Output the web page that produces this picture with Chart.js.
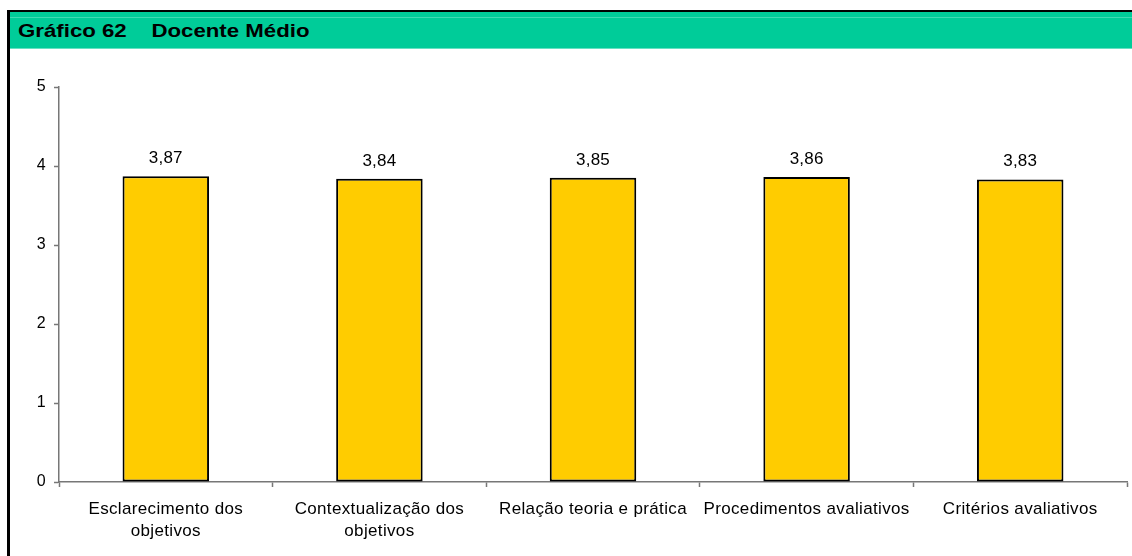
<!DOCTYPE html>
<html>
<head>
<meta charset="utf-8">
<script src="https://cdn.jsdelivr.net/npm/chart.js@4/dist/chart.umd.min.js"></script>
<style>
body { margin: 0; background: #fff; width: 1132px; height: 556px; overflow: hidden; position: relative; }
#chart { position: absolute; left: 0; top: 0; }
#frameLeft { position: absolute; left: 7px; top: 10px; width: 3px; height: 546px; background: #000; }
#frameTop { position: absolute; left: 7px; top: 10px; width: 1125px; height: 2px; background: #000; }
#header { position: absolute; left: 10px; top: 12px; width: 1122px; height: 37px; background: #00cc99;
  border-top: 1px solid #00cc99; box-sizing: border-box; }
#header .hl { position: absolute; left: 0; top: 4px; width: 100%; height: 1px; background: #40d9b3; }
#header .bl { position: absolute; left: 0; bottom: 0; width: 100%; height: 1px; background: #66e0c2; }
#title { position: absolute; left: 8px; top: 7px; font: bold 19px "Liberation Sans", Arial, sans-serif; color: #000;
  white-space: pre; transform: scaleX(1.17); transform-origin: left center; }
</style>
</head>
<body>
<canvas id="chart" width="1132" height="556"></canvas>
<div id="frameLeft"></div>
<div id="frameTop"></div>
<div id="header"><div class="hl"></div><div class="bl"></div><div id="title">Gráfico 62    Docente Médio</div></div>
<script>
const categories = [
    ['Esclarecimento dos', 'objetivos'],
    ['Contextualização dos', 'objetivos'],
    'Relação teoria e prática',
    'Procedimentos avaliativos',
    'Critérios avaliativos'
];
const values = [3.87, 3.84, 3.85, 3.86, 3.83];
const yMin = 0;
const yMax = 5;

const fontFamily = '"Liberation Sans", Arial, sans-serif';

// the reference text is a bit wider than plain Arial
const wideText = {
    id: 'wideText',
    beforeLayout(chart) { chart.ctx.letterSpacing = '0.35px'; },
    beforeDraw(chart) { chart.ctx.letterSpacing = '0.35px'; }
};

// writes the value above each bar, with a comma as decimal mark
const valueLabels = {
    id: 'valueLabels',
    afterDatasetsDraw(chart) {
        const ctx = chart.ctx;
        const meta = chart.getDatasetMeta(0);
        ctx.save();
        ctx.font = '17px ' + fontFamily;
        ctx.letterSpacing = '0.2px';
        ctx.fillStyle = '#000';
        ctx.textAlign = 'center';
        ctx.textBaseline = 'alphabetic';
        meta.data.forEach((bar, i) => {
            ctx.fillText(values[i].toFixed(2).replace('.', ','), bar.x, bar.y - 13);
        });
        ctx.restore();
    }
};

const ctx = document.getElementById('chart').getContext('2d');
new Chart(ctx, {
    type: 'bar',
    data: {
        labels: categories,
        datasets: [{
            data: values,
            backgroundColor: '#ffcc00',
            borderColor: '#000',
            borderWidth: 2,
            borderSkipped: false,
            categoryPercentage: 1,
            barPercentage: 0.405
        }]
    },
    options: {
        responsive: false,
        animation: false,
        layout: { padding: { top: 87, right: 5, left: 0, bottom: 0 } },
        plugins: { legend: { display: false }, tooltip: { enabled: false } },
        scales: {
            x: {
                afterFit(scale) { scale.height = 74; },
                grid: { display: true, drawOnChartArea: false, drawTicks: true, tickLength: 5, tickWidth: 1.5, tickColor: '#777', offset: true },
                border: { color: '#777', width: 1.5 },
                ticks: {
                    color: '#000',
                    padding: 12,
                    maxRotation: 0,
                    autoSkip: false,
                    font: { family: fontFamily, size: 17, lineHeight: 1.25 }
                }
            },
            y: {
                min: yMin,
                max: yMax,
                afterFit(scale) { scale.width = 59; },
                grid: { display: true, drawOnChartArea: false, drawTicks: true, tickLength: 5, tickWidth: 1.5, tickColor: '#777' },
                border: { color: '#777', width: 1.5 },
                ticks: {
                    stepSize: 1,
                    color: '#000',
                    padding: 8,
                    font: { family: fontFamily, size: 16 }
                }
            }
        }
    },
    plugins: [wideText, valueLabels]
});
</script>
</body>
</html>
